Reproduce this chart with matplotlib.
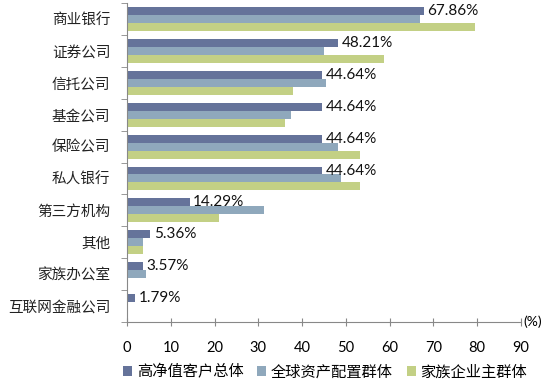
import matplotlib
matplotlib.use("Agg")
import matplotlib.pyplot as plt
import numpy as np

plt.rcParams['font.family'] = ['Noto Sans CJK SC', 'DejaVu Sans']

categories = ["商业银行", "证券公司", "信托公司", "基金公司", "保险公司", "私人银行",
              "第三方机构", "其他", "家族办公室", "互联网金融公司"]
series_names = ["高净值客户总体", "全球资产配置群体", "家族企业主群体"]
total = [67.86, 48.21, 44.64, 44.64, 44.64, 44.64, 14.29, 5.36, 3.57, 1.79]
global_alloc = [66.9, 44.9, 45.4, 37.5, 48.1, 48.8, 31.4, 3.7, 4.3, 0]
family_biz = [79.6, 58.8, 38.0, 36.0, 53.2, 53.3, 21.1, 3.6, 0, 0]
labels = ["67.86%", "48.21%", "44.64%", "44.64%", "44.64%", "44.64%", "14.29%", "5.36%", "3.57%", "1.79%"]
xticks = [0, 10, 20, 30, 40, 50, 60, 70, 80, 90]

colors = ["#65739A", "#8FA8BC", "#C3D085"]

fig = plt.figure(figsize=(5.51, 3.84), dpi=100)
ax = fig.add_axes([0.2305, 0.1615, 0.715, 0.8305])

n = len(categories)
y = np.arange(n)
h = 0.25
for i, (vals, c) in enumerate(zip([total, global_alloc, family_biz], colors)):
    ax.barh(y - h + i * h, vals, height=h, color=c, label=series_names[i], zorder=2)

for yi, v, lab in zip(y, total, labels):
    ax.text(v + 0.8, yi - h, lab, va='center', ha='left', fontsize=11,
            color='#111111', family=['Lato', 'DejaVu Sans'])

ax.set_ylim(n - 0.5, -0.5)
ax.set_xlim(0, 90)
ax.set_xticks(xticks)
ax.set_xticklabels([str(t) for t in xticks], fontsize=10.5, family=['Lato', 'DejaVu Sans'])
ax.set_yticks(y)
ax.set_yticklabels(categories, fontsize=10.5, color='#222222')
ax.set_yticks(np.arange(n + 1) - 0.5, minor=True)
ax.tick_params(axis='y', which='major', length=0, pad=12)
ax.tick_params(axis='y', which='minor', length=4, color='#888888', direction='out')
ax.tick_params(axis='x', length=6, direction='inout', color='#888888', pad=11)

for s in ['top', 'right']:
    ax.spines[s].set_visible(False)
for s in ['left', 'bottom']:
    ax.spines[s].set_color('#888888')

ax.text(1.005, 0, "(%)", transform=ax.transAxes, ha='left', va='center', fontsize=10,
        family=['Lato', 'DejaVu Sans'])

fig.legend(loc='center', bbox_to_anchor=(325 / 551, 1 - 372 / 384), ncol=3, frameon=False,
           fontsize=11, handlelength=0.6, handleheight=0.6, handletextpad=0.3,
           columnspacing=0.9, borderaxespad=0, borderpad=0)

fig.savefig("out.png", dpi=100)
